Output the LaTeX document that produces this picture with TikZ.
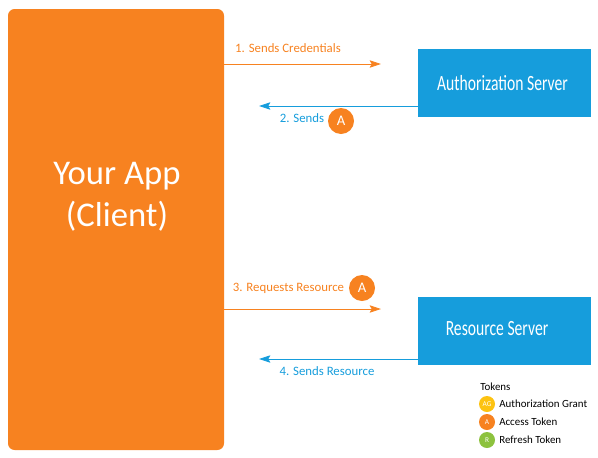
\documentclass[tikz,border=0pt]{standalone}
\usepackage{fontspec}
\setmainfont{Carlito}
\newfontfamily\srvfont[FakeStretch=0.72]{Carlito}
\usepackage{xcolor}
\usetikzlibrary{arrows.meta,positioning}
\definecolor{apporange}{RGB}{247,130,32}
\definecolor{srvblue}{RGB}{22,157,220}
\definecolor{tokyellow}{RGB}{253,195,17}
\definecolor{tokgreen}{RGB}{141,194,62}
\begin{document}
\begin{tikzpicture}[x=0.75pt,y=-0.75pt,
      app/.style={fill=apporange, rounded corners=5pt, inner sep=0pt,
                  minimum width=162pt, minimum height=330.75pt},
      apptext/.style={text=white, inner sep=0pt, align=center,
                  font=\fontsize{26}{31.5}\selectfont},
      srv/.style={fill=srvblue, inner sep=0pt,
                  minimum width=129.75pt, minimum height=51pt},
      srvtext/.style={text=white, inner sep=0pt, font=\srvfont\fontsize{16.3}{18}\selectfont},
      tok/.style={circle, fill=apporange, inner sep=0pt, minimum size=19.5pt,
                  text=white, font=\fontsize{11}{12}\selectfont},
      leg/.style={circle, inner sep=0pt, minimum size=12pt,
                  text=white, font=\fontsize{5.5}{6}\selectfont},
      legtxt/.style={inner sep=0pt, font=\fontsize{8.2}{10}\selectfont},
      lab/.style={inner sep=0pt, font=\fontsize{9.6}{11}\selectfont},
      arro/.style={-{Stealth[length=8.5pt,width=5.5pt,inset=1.5pt]}, semithick, color=apporange},
      arrb/.style={-{Stealth[length=8.5pt,width=5.5pt,inset=1.5pt]}, semithick, color=srvblue}
  ]
    \useasboundingbox (0,0) rectangle (598,457);
    \node[app] (client) at (116,229.5) {};
    \node[apptext] (apptxt) at (117,197) {Your App\\(Client)};
    \node[srv] (authsrv) at (504.5,83) {};
    \node[srv] (ressrv) at (504.5,331) {};
    \node[srvtext] (authtxt) at (502.5,83) {Authorization Server};
    \node[srvtext] (restxt) at (497,329) {Resource Server};
    % arrows
    \coordinate (tipa) at (381,64);
    \coordinate (tipb) at (259,106);
    \coordinate (tipc) at (381,309);
    \coordinate (tipd) at (259,359);
    \draw[arro] (client.east |- tipa) -- (tipa);
    \draw[arrb] (authsrv.west |- tipb) -- (tipb);
    \draw[arro] (client.east |- tipc) -- (tipc);
    \draw[arrb] (ressrv.west |- tipd) -- (tipd);
    \node[lab, text=apporange] (sendcred) at (288,48.5) {1. Sends Credentials};
    \node[lab, text=srvblue] (sendtok) at (302,118.5) {2. Sends};
    \node[tok] (toka) at (341,121) {A};
    \node[lab, text=apporange] (reqres) at (288.5,288.5) {3. Requests Resource};
    \node[tok] (tokb) at (362,288) {A};
    \node[lab, text=srvblue] (sendres) at (327,371.5) {4. Sends Resource};
    % legend
    \node[legtxt, anchor=west] (tokhead) at (480,387) {Tokens};
    \node[leg, fill=tokyellow] (legag) at (487,404) {AG};
    \node[leg, fill=apporange] (lega) at (487,422) {A};
    \node[leg, fill=tokgreen] (legr) at (487,440) {R};
    \node[legtxt, right=9pt of legag.center] (txtag) {Authorization Grant};
    \node[legtxt, right=9pt of lega.center] (txta) {Access Token};
    \node[legtxt, right=9pt of legr.center] (txtr) {Refresh Token};
  \end{tikzpicture}
\end{document}
